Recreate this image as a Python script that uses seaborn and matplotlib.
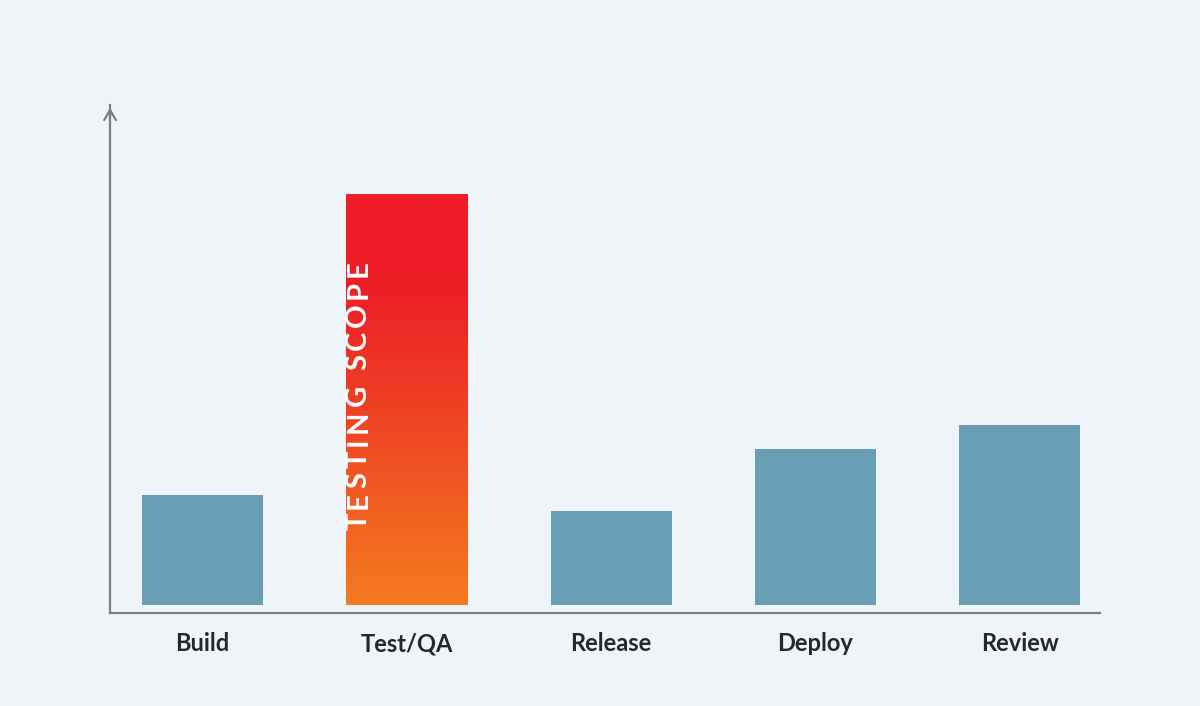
import numpy as np
import pandas as pd
import matplotlib.pyplot as plt
import matplotlib.transforms as mtransforms
import seaborn as sns
from matplotlib.colors import LinearSegmentedColormap

# Chart data
stages = ['Build', 'Test/QA', 'Release', 'Deploy', 'Review']
effort = [26.8, 100, 22.9, 38.0, 43.8]
highlight = 'Test/QA'
highlight_label = 'TESTING SCOPE'

bg = '#eff4f8'
bar_color = '#699fb5'
axis_color = '#7b7d80'
text_color = '#24272d'

df = pd.DataFrame({'stage': stages, 'effort': effort})

sns.set_theme(style='white')
plt.rcParams['font.family'] = ['Lato', 'DejaVu Sans']

fig = plt.figure(figsize=(12, 7.06), dpi=100, facecolor=bg)
ax = fig.add_axes([0.0917, 0.1317, 0.825, 0.7195])
ax.set_facecolor(bg)

sns.barplot(data=df, x='stage', y='effort', color=bar_color, width=0.592,
            saturation=1, linewidth=0, ax=ax)

# Gradient fill for the highlighted bar
idx = stages.index(highlight)
patch = ax.patches[idx]
patch.set_facecolor('none')
x0, w = patch.get_x(), patch.get_width()
h = patch.get_height()
cmap = LinearSegmentedColormap.from_list(
    'grad', [(0, '#f47b20'), (0.45, '#ef4424'), (0.8, '#ed1c26'), (1, '#ed1c26')])
grad = np.linspace(0, 1, 256).reshape(-1, 1)
im = ax.imshow(grad, cmap=cmap, origin='lower', aspect='auto',
               extent=[x0, x0 + w, 0, h], zorder=patch.get_zorder())
im.set_clip_path(patch)
ax.set_xlim(-0.451, 4.392)
ax.set_ylim(-1.95, 121.7)

# Vertical label with letter spacing, drawn one character at a time
renderer = fig.canvas.get_renderer()
offset_px = 0.0
spacing_px = 4.2
for ch in highlight_label:
    tr = mtransforms.offset_copy(ax.transData, fig=fig, x=0,
                                 y=offset_px * 72 / fig.dpi, units='points')
    t = ax.text(x0 + w * 0.1, 18.2, ch, rotation=90, rotation_mode='anchor',
                ha='left', va='center', color='white', fontsize=21,
                fontweight='bold', zorder=5, transform=tr)
    if ch == ' ':
        adv = 6.5
    else:
        adv = t.get_window_extent(renderer).height
    offset_px += adv + spacing_px

# Axes styling
sns.despine(ax=ax, top=True, right=True)
for side in ['left', 'bottom']:
    ax.spines[side].set_color(axis_color)
    ax.spines[side].set_linewidth(1.6)
ax.set_yticks([])
ax.tick_params(axis='x', length=0, pad=14)
for lbl in ax.get_xticklabels():
    lbl.set_fontsize(17)
    lbl.set_fontweight('bold')
    lbl.set_color(text_color)
ax.set_xlabel('')
ax.set_ylabel('')

# Arrow head at top of the y axis
ax.annotate('', xy=(0, 1.0), xytext=(0, 0.97), xycoords='axes fraction',
            arrowprops=dict(arrowstyle='->,head_length=0.6,head_width=0.35',
                            color=axis_color, lw=1.6))

fig.savefig('out.png', dpi=100, facecolor=bg)
